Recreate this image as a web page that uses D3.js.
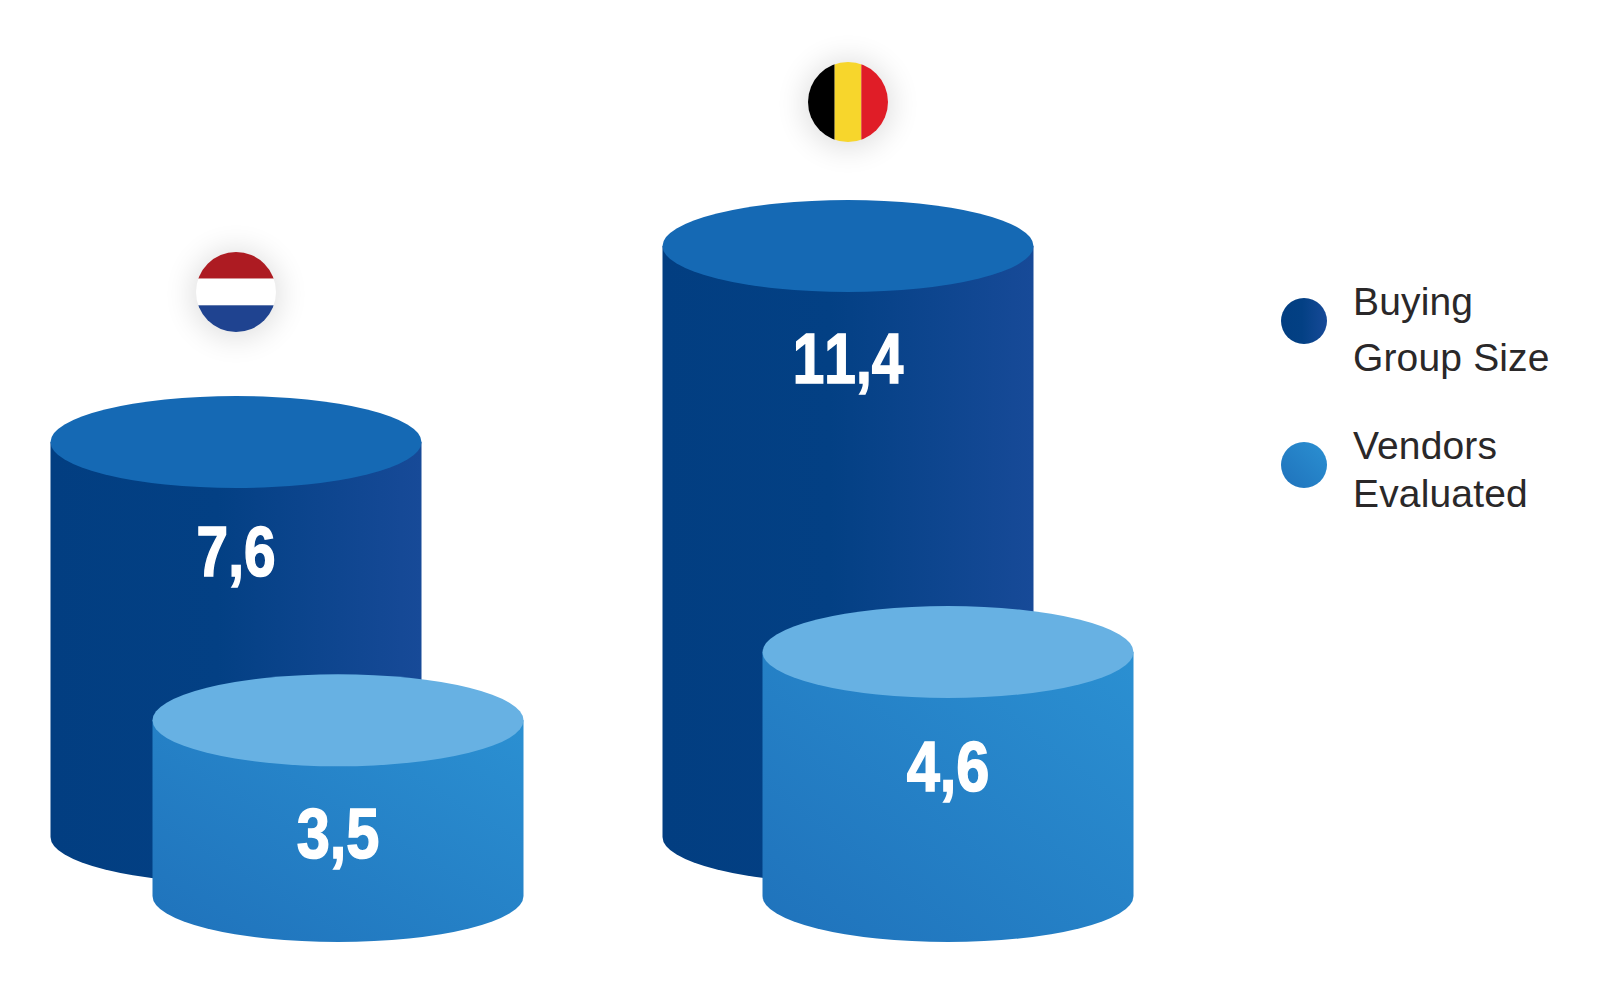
<!DOCTYPE html>
<html>
<head>
<meta charset="utf-8">
<script src="https://cdn.jsdelivr.net/npm/d3@7"></script>
<style>
  html, body { margin: 0; padding: 0; background: #fff; }
  svg { display: block; }
  .value { font-family: "Liberation Sans", sans-serif; font-weight: 700; font-size: 70px; font-kerning: none; fill: #fff; stroke: #fff; stroke-width: 1.6px; text-anchor: middle; }
  .legend-label { font-family: "Liberation Sans", sans-serif; font-size: 39px; letter-spacing: 0.15px; fill: #2a2829; }
</style>
</head>
<body>
<svg width="1616" height="1004"></svg>
<script>
const countries = ["Netherlands", "Belgium"];
const buyingGroupSize = [7.6, 11.4];
const vendorsEvaluated = [3.5, 4.6];
const legendLabels = [["Buying", "Group Size"], ["Vendors", "Evaluated"]];
const netherlandsStripes = ["#ad1b22", "#ffffff", "#1f4390"];
const belgiumStripes = ["#000000", "#f7d62c", "#e01d27"];

const svg = d3.select("svg");
const defs = svg.append("defs");

const fmt = v => String(v).replace(".", ",");

const buyingGrad = defs.append("linearGradient").attr("id", "buying-side");
buyingGrad.append("stop").attr("offset", "0%").attr("stop-color", "#023e81");
buyingGrad.append("stop").attr("offset", "45%").attr("stop-color", "#034084");
buyingGrad.append("stop").attr("offset", "100%").attr("stop-color", "#174a98");

const vendorGrad = defs.append("linearGradient").attr("id", "vendor-side")
    .attr("x1", "0%").attr("y1", "100%").attr("x2", "100%").attr("y2", "0%");
vendorGrad.append("stop").attr("offset", "0%").attr("stop-color", "#1f72bb");
vendorGrad.append("stop").attr("offset", "100%").attr("stop-color", "#2b90d2");

defs.append("filter").attr("id", "soft")
    .attr("x", "-80%").attr("y", "-80%").attr("width", "260%").attr("height", "260%")
    .append("feGaussianBlur").attr("stdDeviation", 15);

const xCenter = d3.scalePoint().domain(countries).range([236, 848]);

const rx = 185.5, ry = 46;
const buyingBase = 837, vendorBase = 896;

// the picture's cylinders are not to one scale, so each series gets its own
const yBuying = d3.scaleLinear().domain([0, 11.4]).range([3, 591]);
const yVendors = d3.scaleLinear().domain([0.67, 4.6]).range([0, 244]);

// label baseline below the top of each cylinder
const buyingLabelDrop = [134, 137];
const vendorLabelDrop = [138, 139];

function cylinder(g, cx, base, h, side, top) {
    const yt = base - h;
    g.append("path")
        .attr("d", `M${cx - rx},${yt}V${base}A${rx},${ry} 0 0 0 ${cx + rx},${base}V${yt}Z`)
        .attr("fill", side);
    g.append("ellipse")
        .attr("cx", cx).attr("cy", yt).attr("rx", rx).attr("ry", ry)
        .attr("fill", top);
    return yt;
}

function valueLabel(g, x, y, v, squeeze) {
    g.append("text").attr("class", "value")
        .attr("transform", `translate(${x},${y}) scale(${squeeze},1)`)
        .text(fmt(v));
}

function flag(cx, cy, r, stripes, vertical, id) {
    svg.append("circle").attr("cx", cx).attr("cy", cy + 2).attr("r", r + 4)
        .attr("fill", "#000").attr("opacity", 0.13).attr("filter", "url(#soft)");
    defs.append("clipPath").attr("id", id)
        .append("circle").attr("cx", cx).attr("cy", cy).attr("r", r);
    const band = d3.scaleBand().domain(d3.range(stripes.length)).range([-r, r]);
    svg.append("g").attr("clip-path", `url(#${id})`)
        .selectAll("rect").data(stripes).enter().append("rect")
        .attr("x", (d, i) => vertical ? cx + band(i) : cx - r)
        .attr("y", (d, i) => vertical ? cy - r : cy + band(i))
        .attr("width", vertical ? band.bandwidth() : 2 * r)
        .attr("height", vertical ? 2 * r : band.bandwidth())
        .attr("fill", d => d);
}

countries.forEach((c, i) => {
    const cx = xCenter(c);
    const g = svg.append("g");
    const yt = cylinder(g, cx, buyingBase, yBuying(buyingGroupSize[i]), "url(#buying-side)", "#1569b4");
    valueLabel(g, cx, yt + buyingLabelDrop[i], buyingGroupSize[i], 0.81);

    const vx = cx + (i === 0 ? 102 : 100);
    const vt = cylinder(g, vx, vendorBase, yVendors(vendorsEvaluated[i]), "url(#vendor-side)", "#67b1e3");
    valueLabel(g, vx, vt + vendorLabelDrop[i], vendorsEvaluated[i], 0.85);
});

flag(xCenter("Netherlands"), 292, 40, netherlandsStripes, false, "clip-nl");
flag(xCenter("Belgium"), 102, 40, belgiumStripes, true, "clip-be");

// legend
const legendY = d3.scalePoint().domain([0, 1]).range([321, 465]);
const legendFills = ["url(#buying-side)", "url(#vendor-side)"];
const lineGap = [56, 48];
legendLabels.forEach((lines, i) => {
    svg.append("circle").attr("cx", 1304).attr("cy", legendY(i)).attr("r", 23)
        .attr("fill", legendFills[i]);
    lines.forEach((t, j) => {
        svg.append("text").attr("class", "legend-label")
            .attr("x", 1353)
            .attr("y", legendY(i) - 6 + j * lineGap[i])
            .text(t);
    });
});
</script>
</body>
</html>
